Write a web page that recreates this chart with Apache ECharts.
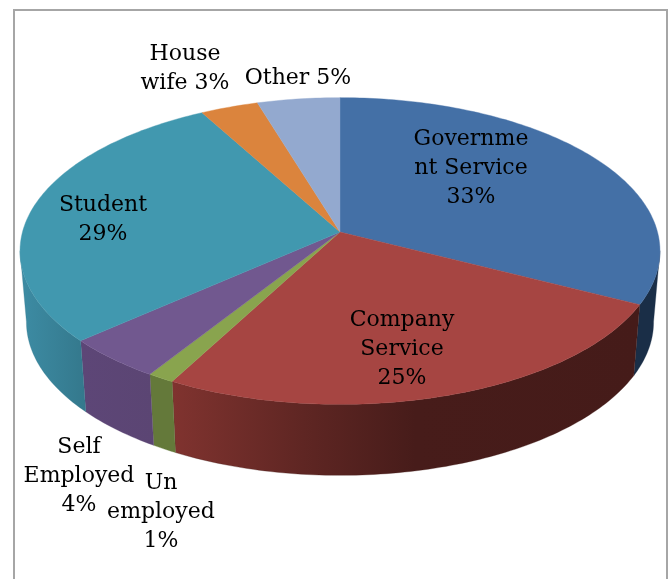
<!DOCTYPE html>
<html>
<head>
<meta charset="utf-8">
<style>
  html, body { margin: 0; padding: 0; background: #fff; }
  #chart { width: 670px; height: 579px; }
</style>
<script src="https://cdn.jsdelivr.net/npm/echarts@6/dist/echarts.min.js"></script>
</head>
<body>
<div id="chart"></div>
<script>
  const categories = ['Government Service', 'Company Service', 'Un employed', 'Self Employed', 'Student', 'House wife', 'Other']
  // shares as read from the slice edges, the labels show them rounded
  const shares = [32.5, 25.3, 1.2, 4.49, 28.5, 3.3, 4.7]
  const labelLines = [
    ['Governme', 'nt Service', '33%'],
    ['Company', 'Service', '25%'],
    ['Un', 'employed', '1%'],
    ['Self', 'Employed', '4%'],
    ['Student', '29%'],
    ['House', 'wife 3%'],
    ['Other 5%']
  ]
  const topColors = ['#4470a6', '#a64542', '#89a44e', '#71588f', '#4198af', '#db843d', '#93a9cf']
  const wallColors = [
    [[0, '#1a2e47'], [1, '#1a2e47']],
    [[0, '#80332f'], [0.28, '#5f2623'], [0.52, '#471c1a'], [1, '#451b19']],
    [[0, '#64793a'], [1, '#64793a']],
    [[0, '#5d4677'], [1, '#5b4573']],
    [[0, '#3d8ca4'], [1, '#34788c']]
  ]

  // label centre x and first line centre y, same order as categories
  const labelAnchors = [[471, 139], [402, 320], [161, 483], [79, 447], [103, 205], [185, 54], [298, 78]]
  const lineHeight = 29

  // perspective of the disc: apex of the slices, half sizes, tilt and wall depth
  const apexX = 340
  const apexY = 232
  const halfW = 317.5
  const halfH = 151
  const tilt = 0.124
  const wallDepth = 71
  const bottomScale = 0.98
  // front part of the rim, outside of it the wall is hidden
  const wallFrom = 97
  const wallTo = 263

  function project(deg, bottom) {
    const t = deg * Math.PI / 180
    const s = 1 / (1 + tilt * Math.cos(t))
    return [
      apexX + halfW * (bottom ? bottomScale : 1) * Math.sin(t) * s,
      apexY - halfH * Math.cos(t) * s + (bottom ? wallDepth : 0)
    ]
  }

  function arc(from, to, bottom) {
    let pts = []
    let n = Math.max(2, Math.ceil(to - from))
    for (let i = 0; i <= n; i++) {
      pts.push(project(from + (to - from) * i / n, bottom))
    }
    return pts
  }

  // cumulative angles for every slice
  let total = shares.reduce((a, b) => a + b, 0)
  let sum = 0
  const sliceData = shares.map((v, i) => {
    let start = sum / total * 360
    sum += v
    return [start, sum / total * 360, i]
  })

  function renderSlice(params, api) {
    let start = api.value(0)
    let end = api.value(1)
    let i = api.value(2)
    let children = []

    // side wall
    let a = Math.max(start, wallFrom)
    let b = Math.min(end, wallTo)
    if (b > a) {
      let stops = wallColors[i].map(s => ({offset: s[0], color: s[1]}))
      children.push({
        type: 'polygon',
        shape: {points: arc(a, b, false).concat(arc(a, b, true).reverse())},
        style: {
          fill: new echarts.graphic.LinearGradient(0, 0, 1, 0, stops),
          stroke: wallColors[i][wallColors[i].length - 1][1],
          lineWidth: 0.3
        }
      })
    }

    // top face
    children.push({
      type: 'polygon',
      shape: {points: [[apexX, apexY]].concat(arc(start, end, false))},
      style: {fill: topColors[i], stroke: topColors[i], lineWidth: 0.4}
    })

    // label
    labelLines[i].forEach((line, k) => {
      children.push({
        type: 'text',
        z2: 20,
        style: {
          text: line,
          x: labelAnchors[i][0],
          y: labelAnchors[i][1] + k * lineHeight,
          align: 'center',
          verticalAlign: 'middle',
          fill: '#000',
          font: '22px "DejaVu Serif"'
        }
      })
    })
    return {type: 'group', children: children}
  }

  const chart = echarts.init(document.getElementById('chart'), null, {renderer: 'canvas'})
  chart.setOption({
    animation: false,
    backgroundColor: '#fff',
    graphic: [{
      type: 'rect',
      silent: true,
      shape: {x: 14, y: 10, width: 653, height: 620},
      style: {fill: 'none', stroke: '#a6a6a6', lineWidth: 2}
    }],
    series: [{
      type: 'custom',
      name: 'Occupation',
      coordinateSystem: 'none',
      clip: false,
      renderItem: renderSlice,
      data: sliceData
    }]
  })
</script>
</body>
</html>
